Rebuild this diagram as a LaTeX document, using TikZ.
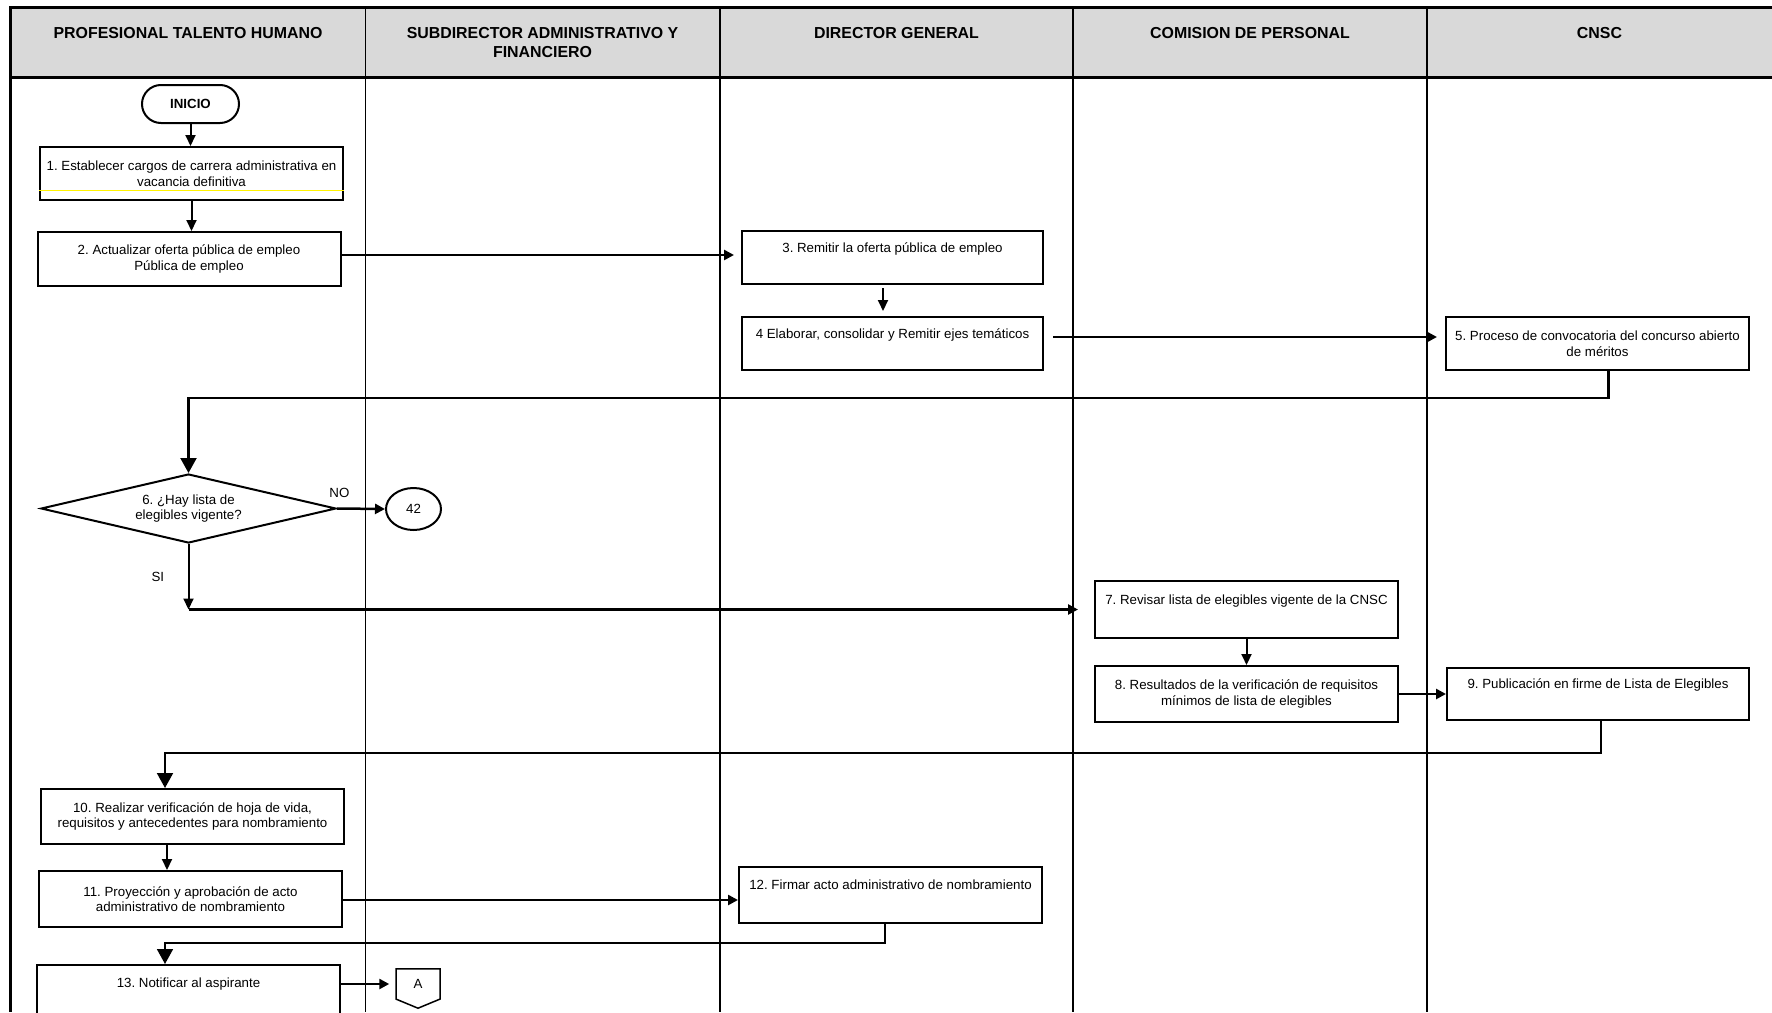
\documentclass[tikz,border=0pt]{standalone}
\usepackage{fontspec}
\setmainfont{Liberation Sans}
\usepackage{xcolor}
\usetikzlibrary{positioning, arrows.meta, shapes.geometric, shapes.symbols}
\frenchspacing

\definecolor{headgray}{RGB}{217,217,217}

\begin{document}
\begin{tikzpicture}[x=1pt, y=-1pt,
    frame/.style={line width=2.5pt},
    lane/.style={line width=1.5pt},
    lanehead/.style={anchor=north, inner sep=0pt, align=center, font=\fontsize{15.9}{19}\selectfont\bfseries},
    act/.style={draw, line width=2pt, rectangle, minimum width=303pt, minimum height=54pt, inner sep=3pt, align=center, font=\fontsize{13.3}{15.5}\selectfont},
    terminal/.style={draw, line width=2pt, rectangle, rounded corners=19pt, minimum width=97pt, minimum height=38pt, font=\fontsize{13.3}{15.5}\selectfont\bfseries},
    decision/.style={draw, line width=2pt, diamond, aspect=4.3, inner sep=2pt, minimum width=295pt, minimum height=69pt, align=center, font=\fontsize{13.3}{15.5}\selectfont},
    onpage/.style={draw, line width=2pt, ellipse, inner sep=0pt, minimum width=55pt, minimum height=42pt, font=\fontsize{13.3}{15.5}\selectfont},
    offpage/.style={draw, line width=1.5pt, signal, signal to=south, signal pointer angle=135, inner sep=0pt, minimum width=44pt, minimum height=32pt, font=\fontsize{13.3}{15.5}\selectfont},
    lbl/.style={font=\fontsize{13.3}{15.5}\selectfont},
    down/.style={-{Triangle[length=11pt,width=10pt]}, line width=2pt},
    arr/.style={-{Triangle[length=10pt,width=10pt]}, line width=2.5pt},
    back/.style={-{Triangle[length=15pt,width=16pt]}, line width=2.2pt}
  ]
  \useasboundingbox (0,0) rectangle (1772,1012);

  % swimlanes
  \fill[headgray] (10.5,7.5) rectangle (1772,77.5);
  \draw[frame] (1772,7.5) -- (10.5,7.5) -- (10.5,1012);
  \draw[frame] (10.5,77.5) -- (1772,77.5);
  \foreach \x in {365.5,720,1073,1427}
    \draw[lane] (\x,7.5) -- (\x,1012);

  \node[lanehead] (hpth) at (188,27.3) {PROFESIONAL TALENTO HUMANO};
  \node[lanehead] (hsaf) at (542.5,27.3) {SUBDIRECTOR ADMINISTRATIVO Y\\FINANCIERO};
  \node[lanehead] (hdg) at (896.5,27.3) {DIRECTOR GENERAL};
  \node[lanehead] (hcp) at (1250,27.3) {COMISION DE PERSONAL};
  \node[lanehead] (hcnsc) at (1599.5,27.3) {CNSC};

  % steps
  \node[terminal] (inicio) at (190.5,104) {INICIO};
  \node[act, minimum height=53pt] (p1) at (191.5,173.5) {1. Establecer cargos de carrera administrativa en\\vacancia definitiva};
  \node[act] (p2) at (189,259) {2. Actualizar oferta pública de empleo\\Pública de empleo};
  \node[act, minimum width=301pt, minimum height=53pt] (p3) at (892.5,257.5) {3. Remitir la oferta pública de empleo\\\strut};
  \node[act, minimum width=301pt, minimum height=53pt] (p4) at (892.5,343.5) {4 Elaborar, consolidar y Remitir ejes temáticos\\\strut};
  \node[act, minimum height=53pt] (p5) at (1597.5,343.5) {5. Proceso de convocatoria del concurso abierto\\de méritos};
  \node[decision] (d6) at (188.5,508.5) {6. ¿Hay lista de\\elegibles vigente?};
  \node[onpage] (c42) at (413.5,509) {42};
  \node[act, minimum height=57pt] (p7) at (1246.5,609.5) {7. Revisar lista de elegibles vigente de la CNSC\\\strut};
  \node[act, minimum height=56pt] (p8) at (1246.5,694) {8. Resultados de la verificación de requisitos\\mínimos de lista de elegibles};
  \node[act, minimum width=302pt, minimum height=52pt] (p9) at (1598,694) {9. Publicación en firme de Lista de Elegibles\\\strut};
  \node[act, minimum height=55pt] (p10) at (192.5,816.5) {10. Realizar verificación de hoja de vida,\\requisitos y antecedentes para nombramiento};
  \node[act, minimum height=56pt] (p11) at (190.5,899) {11. Proyección y aprobación de acto\\administrativo de nombramiento};
  \node[act, minimum height=56pt] (p12) at (890.5,895) {12. Firmar acto administrativo de nombramiento\\\strut};
  \node[act, minimum height=55pt] (p13) at (188.5,992.5) {13. Notificar al aspirante\\\strut};
  \node[offpage] (offA) at (418,984) {A};

  \draw[yellow, line width=1pt] ([yshift=11pt]p1.south west) -- ([yshift=11pt]p1.south east);

  % flow
  \draw[down] (inicio.south) -- (inicio.south |- p1.north);
  \draw[down] (p1.south) -- (p1.south |- p2.north);
  \draw[arr, shorten >=7pt] ([yshift=4pt]p2.east) -- ([yshift=4pt]p2.east -| p3.west);
  \draw[down, shorten <=3pt, shorten >=5pt] ([xshift=-9.5pt]p3.south) -- ([xshift=-9.5pt]p3.south |- p4.north);
  \draw[arr, shorten <=9pt, shorten >=8pt] ([yshift=6.5pt]p4.east) -- ([yshift=6.5pt]p5.west);
  \draw[back] ([xshift=11pt]p5.south) -- ++(0,27) -| (d6.north);
  \draw[arr] (d6.east) -- node[lbl, above=6pt, pos=0.05] {NO} (c42.west);
  \draw[down] (d6.south) -- node[lbl, left=20pt] {SI} (d6.south |- p7.west);
  \draw[arr, shorten >=16pt] (d6.south |- p7.west) -- (p7.west);
  \draw[down] (p7.south) -- (p7.south |- p8.north);
  \draw[arr] (p8.east) -- (p9.west);
  \draw[back, line width=2pt] ([xshift=3pt]p9.south) -- ++(0,32) -| ([xshift=-27.5pt]p10.north);
  \draw[down] ([xshift=-25.5pt]p10.south) -- ([xshift=-25.5pt]p10.south |- p11.north);
  \draw[arr] ([yshift=-1pt]p11.east) -- ([yshift=-1pt]p11.east -| p12.west);
  \draw[back, line width=1.8pt] ([xshift=-5.5pt]p12.south) -- ++(0,19) -| ([xshift=-23.5pt]p13.north);
  \draw[arr, shorten >=6pt] (p13.east |- offA.west) -- (offA.west);
\end{tikzpicture}
\end{document}
